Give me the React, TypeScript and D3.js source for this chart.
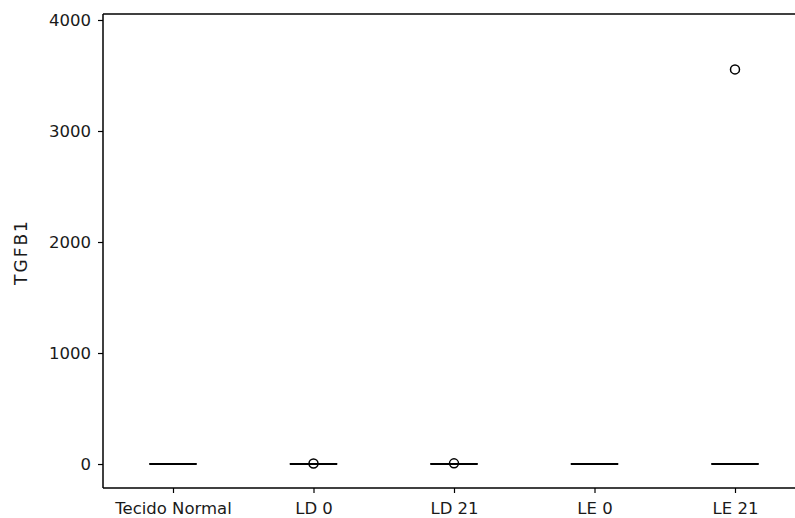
import { useEffect, useRef } from 'react';
import * as d3 from 'd3';

const GROUPS = ['Tecido Normal', 'LD 0', 'LD 21', 'LE 0', 'LE 21'];
// quartiles per group (all collapsed near zero)
const Q1 = [0.2, 0.3, 0.4, 0.2, 0.3];
const MEDIAN = [0.5, 0.6, 0.8, 0.4, 0.6];
const Q3 = [1.0, 1.2, 1.5, 0.8, 1.1];
// outliers: [group, value]
const OUTLIERS: [string, number][] = [
  ['LD 0', 4],
  ['LD 21', 6],
  ['LE 21', 3555],
];
const Y_TICKS = [0, 1000, 2000, 3000, 4000];

export default function App() {
  const svgRef = useRef<SVGSVGElement>(null);

  useEffect(() => {
    const el = svgRef.current;
    if (!el) return;
    const svg = d3.select(el);
    svg.selectAll('*').remove();

    const W = 795;
    const H = 518;
    const font = "'DejaVu Sans', sans-serif";
    const fs = '16.5px';
    const left = 103;
    const top = 14;
    const bottom = 488;
    const right = 795;

    const x = d3.scalePoint<string>().domain(GROUPS).range([173, 735]);
    const y = d3.scaleLinear().domain([-216, 4054]).range([bottom, top]);
    const boxW = 47;

    // frame: left, top, bottom (no right side)
    svg.append('line').attr('x1', left).attr('x2', right).attr('y1', top).attr('y2', top)
      .attr('stroke', '#000').attr('stroke-width', 1.5);

    const gy = svg.append('g').attr('transform', `translate(${left},0)`)
      .call(d3.axisLeft(y).tickValues(Y_TICKS).tickSize(5).tickPadding(7).tickFormat((v) => `${v}`));
    gy.select('.domain').attr('d', `M0,${top}V${bottom}`).attr('stroke-width', 1.5);
    gy.selectAll('.tick line').attr('stroke-width', 1.2);
    gy.selectAll('text').attr('font-family', font).attr('font-size', fs).attr('fill', '#1a1a1a');

    const gx = svg.append('g').attr('transform', `translate(0,${bottom})`)
      .call(d3.axisBottom(x).tickSize(5).tickPadding(9));
    gx.select('.domain').attr('d', `M${left},0H${right}`).attr('stroke-width', 1.5);
    gx.selectAll('.tick line').attr('stroke-width', 1.2);
    gx.selectAll('text').attr('font-family', font).attr('font-size', fs).attr('fill', '#1a1a1a');

    // boxes
    GROUPS.forEach((g, i) => {
      const cx = x(g) || 0;
      svg.append('rect')
        .attr('x', cx - boxW / 2).attr('width', boxW)
        .attr('y', y(Q3[i])).attr('height', Math.max(0, y(Q1[i]) - y(Q3[i])))
        .attr('fill', 'none').attr('stroke', '#000').attr('stroke-width', 1);
      svg.append('line')
        .attr('x1', cx - boxW / 2).attr('x2', cx + boxW / 2)
        .attr('y1', y(MEDIAN[i])).attr('y2', y(MEDIAN[i]))
        .attr('stroke', '#000').attr('stroke-width', 2);
    });

    // outliers
    OUTLIERS.forEach(([g, v]) => {
      svg.append('circle')
        .attr('cx', x(g) || 0).attr('cy', y(v)).attr('r', 4.5)
        .attr('fill', 'none').attr('stroke', '#000').attr('stroke-width', 1.5);
    });

    // y label
    svg.append('text')
      .attr('transform', `translate(27,${(top + bottom) / 2 + 1}) rotate(-90)`)
      .attr('text-anchor', 'middle')
      .attr('font-family', font).attr('font-size', '17px').attr('letter-spacing', '2px')
      .attr('fill', '#1a1a1a')
      .text('TGFB1');

    svg.attr('width', W).attr('height', H);
  }, []);

  return (
    <svg ref={svgRef} width={795} height={518}
      style={{ position: 'absolute', left: 0, top: 0, background: '#fff' }} />
  );
}
